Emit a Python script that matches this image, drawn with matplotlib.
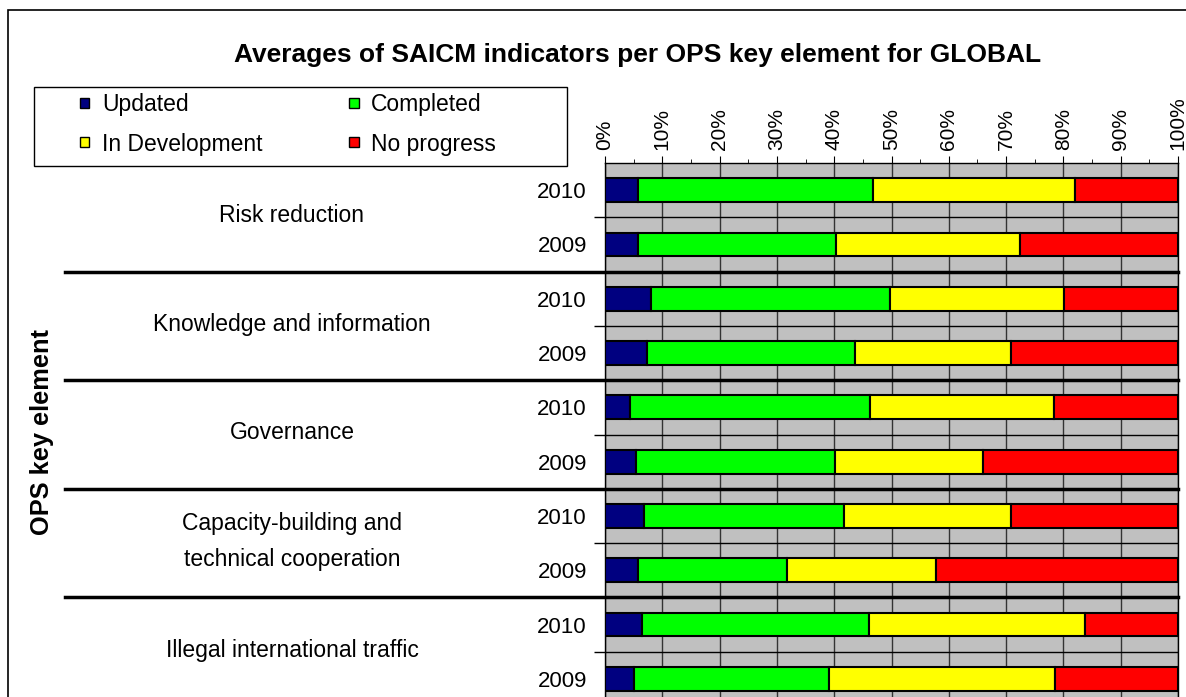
import matplotlib
matplotlib.use("Agg")
import matplotlib.pyplot as plt
from matplotlib.patches import Patch, Rectangle
from matplotlib.ticker import MultipleLocator, FuncFormatter

plt.rcParams['font.family'] = ['Liberation Sans', 'DejaVu Sans']

# data (percent of indicators), top to bottom
groups = ["Risk reduction", "Knowledge and information", "Governance",
          "Capacity-building and\ntechnical cooperation", "Illegal international traffic"]
years = ["2010", "2009"] * 5
updated = [5.8, 5.8, 8.0, 7.4, 4.3, 5.4, 6.8, 5.8, 6.4, 5.1]
completed = [41.0, 34.5, 41.7, 36.3, 41.9, 34.7, 34.9, 25.9, 39.7, 34.0]
in_development = [35.3, 32.2, 30.4, 27.1, 32.1, 25.9, 29.1, 26.0, 37.6, 39.4]
no_progress = [17.9, 27.5, 19.9, 29.2, 21.7, 34.0, 29.2, 42.3, 16.3, 21.5]

series = [("Updated", updated, "#000080"),
          ("Completed", completed, "#00FF00"),
          ("In Development", in_development, "#FFFF00"),
          ("No progress", no_progress, "#FF0000")]

W, H = 1186, 697
fig = plt.figure(figsize=(W / 100, H / 100), dpi=100)

# axes: plot area runs past the bottom edge of the picture (cut off)
left, right, top, bottom = 605, 1178, 163, 706
ax = fig.add_axes([left / W, 1 - bottom / H, (right - left) / W, (bottom - top) / H])
ax.set_facecolor("#C0C0C0")

ypos = list(range(len(years)))
start = [0] * len(years)
for name, vals, col in series:
    ax.barh(ypos, vals, left=start, height=0.44, color=col, edgecolor="black",
            linewidth=1.5, label=name, zorder=3)
    start = [s + v for s, v in zip(start, vals)]

ax.set_xlim(0, 100)
ax.set_ylim(9.5, -0.5)

# top percent axis
ax.xaxis.tick_top()
ax.xaxis.set_major_locator(MultipleLocator(10))
ax.xaxis.set_minor_locator(MultipleLocator(5))
ax.xaxis.set_major_formatter(FuncFormatter(lambda v, p: "%d%%" % v))
ax.tick_params(axis="x", which="major", direction="out", length=5, pad=4,
               labelsize=15, labelrotation=90)
ax.tick_params(axis="x", which="minor", direction="out", length=3)
ax.grid(axis="x", color="#333333", linewidth=1, zorder=1)
ax.set_axisbelow(True)

# years as y tick labels, small ticks at the mid-group boundary
ax.set_yticks(ypos)
ax.set_yticklabels(years, fontsize=16)
ax.tick_params(axis="y", which="major", length=0, pad=13)
ax.set_yticks([0.5, 2.5, 4.5, 6.5, 8.5], minor=True)
ax.tick_params(axis="y", which="minor", length=8, width=1)
for b in [0.5, 2.5, 4.5, 6.5, 8.5]:
    ax.axhline(b, color="black", linewidth=1, zorder=2)

for s in ax.spines.values():
    s.set_linewidth(1)
    s.set_color("black")

# thick group separators running out to the label column
sep_x0 = (65 - left) / (right - left)
for b in [1.5, 3.5, 5.5, 7.5]:
    ax.plot([sep_x0, 1], [b, b], color="black", linewidth=2.5,
            transform=ax.get_yaxis_transform(), clip_on=False, zorder=4)

# group labels
lab_x = (292 - left) / (right - left)
for i, g in enumerate(groups):
    ax.text(lab_x, 2 * i + 0.47, g, transform=ax.get_yaxis_transform(),
            ha="center", va="center", fontsize=16.5, linespacing=1.7)

fig.text(42 / W, 1 - 432 / H, "OPS key element", rotation=90, fontsize=18.3,
         fontweight="bold", ha="center", va="center")

fig.text(638 / W, 1 - 55 / H, "Averages of SAICM indicators per OPS key element for GLOBAL",
         fontsize=19, fontweight="bold", ha="center", va="center")

# legend: box drawn separately, entries placed inside without a frame
fig.patches.append(Rectangle((34 / W, 1 - 166 / H), 533 / W, 79 / H,
                             transform=fig.transFigure, facecolor="white",
                             edgecolor="black", linewidth=1, zorder=1))
handles = [Patch(facecolor=c, edgecolor="black", linewidth=1) for _, _, c in series]
names = [n for n, _, _ in series]
order = [0, 2, 1, 3]
leg = fig.legend([handles[i] for i in order], [names[i] for i in order], ncol=2,
                 loc="upper left", bbox_to_anchor=(80 / W, 1 - 93 / H),
                 borderaxespad=0, borderpad=0, frameon=False, fontsize=16.5,
                 handlelength=0.4, handleheight=0.3, handletextpad=0.55,
                 labelspacing=0.72, columnspacing=3.8)
leg.set_zorder(2)

# outer chart border
fig.patches.append(Rectangle((8 / W, -0.05), 1.2, (H - 10) / H + 0.05,
                             transform=fig.transFigure, fill=False,
                             edgecolor="black", linewidth=1.2))

fig.savefig("out.png", dpi=100)
